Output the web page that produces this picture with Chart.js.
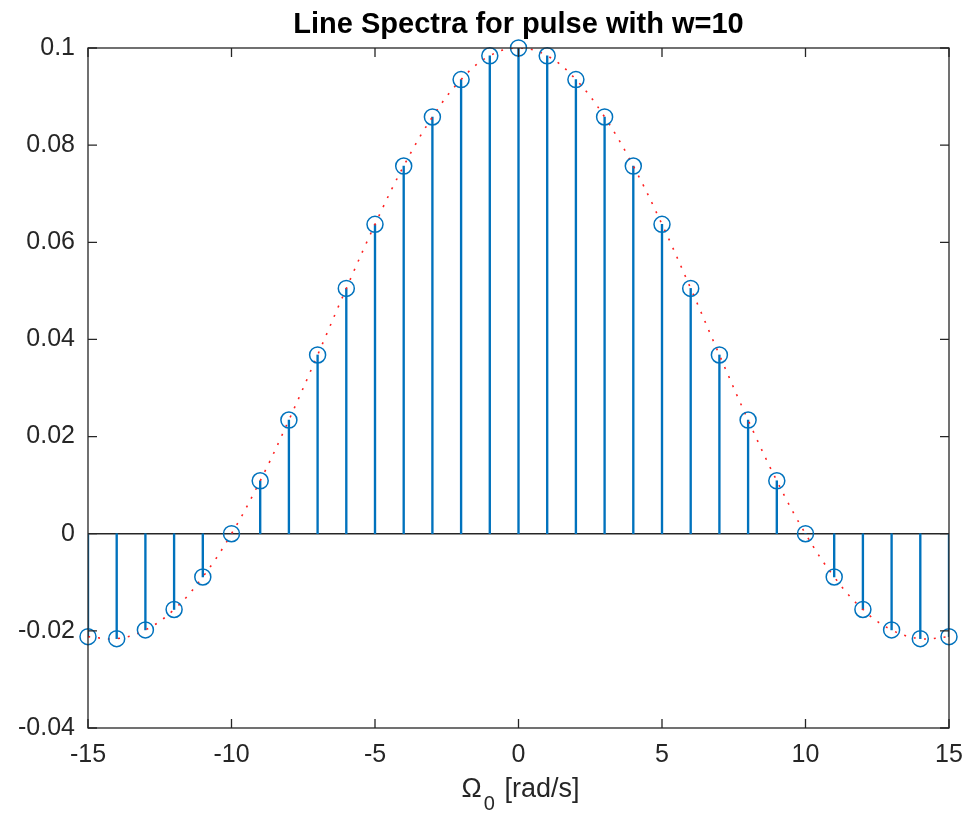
<!DOCTYPE html>
<html lang="en">
<head>
  <meta charset="UTF-8">
  <title>Line Spectra for pulse with w=10</title>
  <script src="https://cdn.jsdelivr.net/npm/chart.js"></script>
  <style>
    body { margin: 0; background: #fff; }
    #wrap { width: 967px; height: 814px; }
  </style>
</head>
<body>
  <div id="wrap">
    <canvas id="grafica" width="967" height="814"></canvas>
  </div>
  <script>
    // harmonic index (Omega_0 multiples)
    var omegas = [-15, -14, -13, -12, -11, -10, -9, -8, -7, -6, -5, -4, -3, -2, -1,
                  0, 1, 2, 3, 4, 5, 6, 7, 8, 9, 10, 11, 12, 13, 14, 15];
    // line spectrum values
    var coefs = [-0.0212, -0.0216, -0.0198, -0.0156, -0.0089, 0.0, 0.0109, 0.0234, 0.0368, 0.0505,
                 0.0637, 0.0757, 0.0858, 0.0935, 0.0984, 0.1,
                 0.0984, 0.0935, 0.0858, 0.0757, 0.0637, 0.0505, 0.0368, 0.0234, 0.0109, 0.0,
                 -0.0089, -0.0156, -0.0198, -0.0216, -0.0212];
    var xTicks = [-15, -10, -5, 0, 5, 10, 15];
    var yTicks = [-0.04, -0.02, 0, 0.02, 0.04, 0.06, 0.08, 0.1];
    var titulo = 'Line Spectra for pulse with w=10';

    var azul = '#0072BD';
    var texto = '#262626';
    var fuente = '"Liberation Sans", Arial, Helvetica, sans-serif';

    var puntos = omegas.map(function (w, i) { return { x: w, y: coefs[i] }; });

    // title, frame, inward ticks, baseline and x label with subscript
    var marco = {
      id: 'marco',
      beforeDatasetsDraw: function (chart) {
        var ctx = chart.ctx, a = chart.chartArea;
        var y0 = chart.scales.y.getPixelForValue(0);
        ctx.save();
        ctx.strokeStyle = texto;
        ctx.lineWidth = 1.5;
        ctx.beginPath();
        ctx.moveTo(a.left, y0);
        ctx.lineTo(a.right, y0);
        ctx.stroke();
        ctx.restore();
      },
      afterDraw: function (chart) {
        var ctx = chart.ctx, a = chart.chartArea;
        var sx = chart.scales.x, sy = chart.scales.y;
        ctx.save();
        ctx.strokeStyle = texto;
        ctx.lineWidth = 1.3;
        ctx.strokeRect(a.left, a.top, a.right - a.left, a.bottom - a.top);
        ctx.beginPath();
        xTicks.forEach(function (t) {
          var px = sx.getPixelForValue(t);
          ctx.moveTo(px, a.bottom); ctx.lineTo(px, a.bottom - 9);
          ctx.moveTo(px, a.top); ctx.lineTo(px, a.top + 9);
        });
        yTicks.forEach(function (t) {
          var py = sy.getPixelForValue(t);
          ctx.moveTo(a.left, py); ctx.lineTo(a.left + 9, py);
          ctx.moveTo(a.right, py); ctx.lineTo(a.right - 9, py);
        });
        ctx.stroke();

        var cx = (a.left + a.right) / 2;

        // titulo
        ctx.fillStyle = '#000';
        ctx.textAlign = 'center';
        ctx.textBaseline = 'middle';
        ctx.font = 'bold 29px ' + fuente;
        ctx.fillText(titulo, cx, 25);

        // x label: Omega sub 0 [rad/s]
        var cy = 790;
        ctx.fillStyle = texto;
        ctx.textAlign = 'left';
        ctx.font = '27px ' + fuente;
        var w1 = ctx.measureText('\u03A9').width;
        var w3 = ctx.measureText(' [rad/s]').width;
        ctx.font = '20px ' + fuente;
        var w2 = ctx.measureText('0').width;
        var x0 = cx - (w1 + w2 + w3) / 2;
        ctx.font = '27px ' + fuente;
        ctx.fillText('\u03A9', x0, cy);
        ctx.font = '20px ' + fuente;
        ctx.fillText('0', x0 + w1 + 2, cy + 14);
        ctx.font = '27px ' + fuente;
        ctx.fillText(' [rad/s]', x0 + w1 + w2 + 4, cy);
        ctx.restore();
      }
    };

    var grafica = new Chart(document.getElementById('grafica'), {
      type: 'bar',
      data: {
        datasets: [
          {
            type: 'line',
            label: 'envolvente',
            data: puntos,
            borderColor: '#FF2020',
            borderWidth: 1.6,
            borderDash: [2, 8],
            pointRadius: 0,
            tension: 0.4,
            fill: false,
            order: 1
          },
          {
            type: 'scatter',
            label: 'marcas',
            data: puntos,
            pointStyle: 'circle',
            pointRadius: 8,
            pointBorderWidth: 1.5,
            pointBorderColor: azul,
            pointBackgroundColor: 'rgba(0,0,0,0)',
            clip: false,
            order: 0
          },
          {
            type: 'bar',
            label: 'stems',
            data: puntos,
            backgroundColor: azul,
            borderWidth: 0,
            barThickness: 1.7,
            order: 2
          }
        ]
      },
      options: {
        responsive: false,
        animation: false,
        layout: { autoPadding: false, padding: { left: 0, right: 18, top: 48, bottom: 0 } },
        plugins: {
          legend: { display: false },
          tooltip: { enabled: false },
          title: { display: false }
        },
        scales: {
          x: {
            type: 'linear',
            min: -15,
            max: 15,
            offset: false,
            afterFit: function (s) { s.height = 86; s.paddingLeft = 0; s.paddingRight = 0; },
            afterBuildTicks: function (s) { s.ticks = xTicks.map(function (v) { return { value: v }; }); },
            grid: { display: false, drawTicks: false },
            border: { display: false },
            ticks: { color: texto, font: { family: fuente, size: 25 }, padding: 12, maxRotation: 0 }
          },
          y: {
            min: -0.04,
            max: 0.1,
            afterFit: function (s) { s.width = 88; s.paddingTop = 0; s.paddingBottom = 0; },
            afterBuildTicks: function (s) { s.ticks = yTicks.map(function (v) { return { value: v }; }); },
            grid: { display: false, drawTicks: false },
            border: { display: false },
            ticks: {
              color: texto,
              font: { family: fuente, size: 25 },
              padding: 13,
              callback: function (v) { return String(Number(v.toFixed(2))); }
            }
          }
        }
      },
      plugins: [marco]
    });
  </script>
</body>
</html>
